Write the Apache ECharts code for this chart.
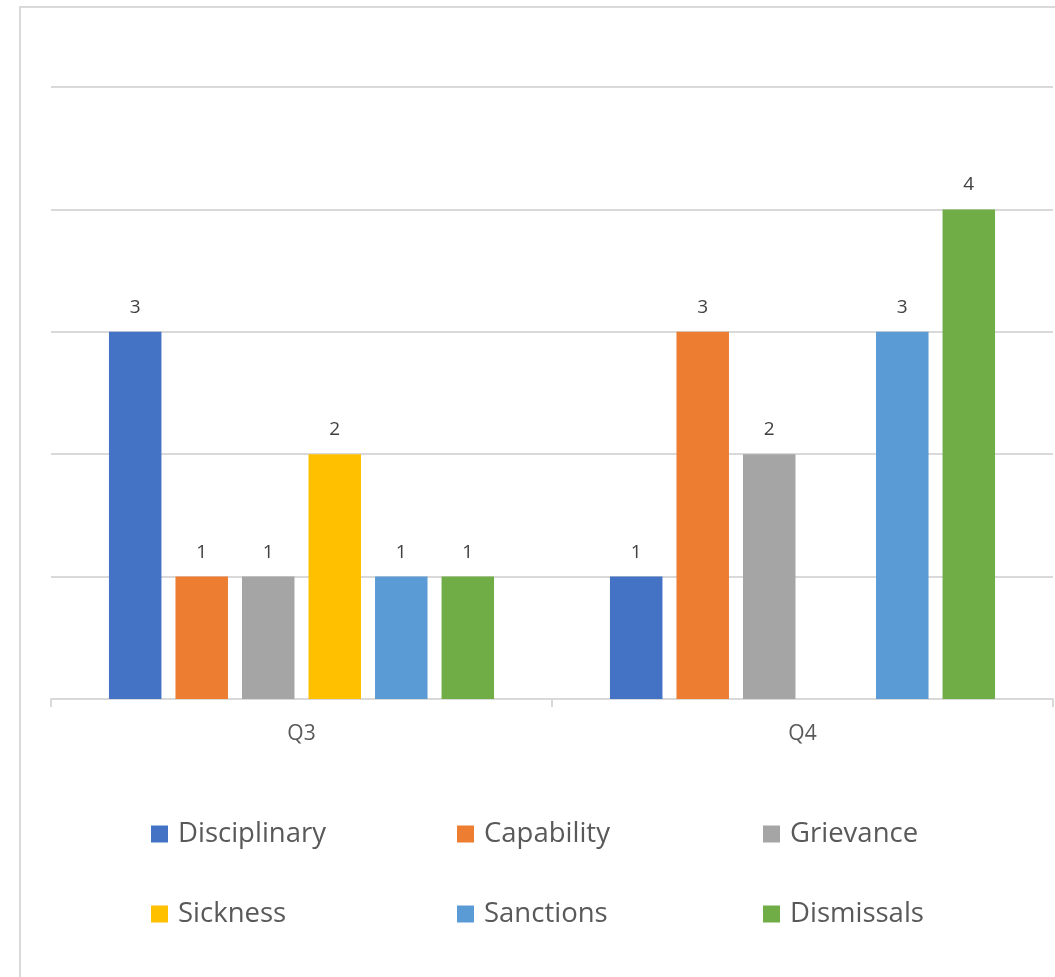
<!DOCTYPE html>
<html>
<head>
<meta charset="utf-8">
<style>
  html, body { margin: 0; padding: 0; background: #fff; }
  #chart { width: 1055px; height: 977px; }
</style>
<script src="https://cdn.jsdelivr.net/npm/echarts@6/dist/echarts.min.js"></script>
</head>
<body>
<div id="chart"></div>
<script>
// Quarterly case counts by type
const quarters = ['Q3', 'Q4'];
const seriesNames = ['Disciplinary', 'Capability', 'Grievance', 'Sickness', 'Sanctions', 'Dismissals'];
const disciplinary = [3, 1];
const capability = [1, 3];
const grievance = [1, 2];
const sickness = [2, null];
const sanctions = [1, 3];
const dismissals = [1, 4];
const colors = ['#4472C4', '#ED7D31', '#A5A5A5', '#FFC000', '#5B9BD5', '#70AD47'];

const values = [disciplinary, capability, grievance, sickness, sanctions, dismissals];
const FONT = '"Open Sans", "Noto Sans", sans-serif';

const chart = echarts.init(document.getElementById('chart'), null, { renderer: 'canvas' });

// Two-row legend laid out as a 3-column grid
const legendCols = [151, 457, 763];
const legendRows = [820, 900];
const legends = seriesNames.map((name, i) => ({
  data: [name],
  left: legendCols[i % 3],
  top: legendRows[Math.floor(i / 3)],
  icon: 'rect',
  itemWidth: 17,
  itemHeight: 17,
  padding: 0,
  selectedMode: false,
  textStyle: {
    color: '#595959',
    fontSize: 27.5,
    fontFamily: FONT,
    padding: [0, 0, 0, 5]
  }
}));

chart.setOption({
  animation: false,
  color: colors,
  graphic: [{
    type: 'rect',
    shape: { x: 20, y: 7, width: 1200, height: 1200 },
    style: { fill: 'none', stroke: '#d9d9d9', lineWidth: 2 },
    silent: true,
    z: -1
  }],
  legend: legends,
  grid: { left: 51, right: 2, top: 87, bottom: 278, containLabel: false },
  xAxis: {
    type: 'category',
    data: quarters,
    axisLine: { lineStyle: { color: '#d9d9d9', width: 2 } },
    axisTick: { show: true, length: 8, lineStyle: { color: '#d9d9d9', width: 2 } },
    axisLabel: { color: '#595959', fontSize: 21, fontFamily: FONT, margin: 25 }
  },
  yAxis: {
    type: 'value',
    min: 0,
    max: 5,
    interval: 1,
    axisLabel: { show: false },
    axisLine: { show: false },
    axisTick: { show: false },
    splitLine: { lineStyle: { color: '#d9d9d9', width: 2 } }
  },
  series: seriesNames.map((name, i) => ({
    name: name,
    type: 'bar',
    data: values[i],
    barWidth: 52.5,
    barGap: '26.7%',
    label: {
      show: true,
      position: 'top',
      distance: 15,
      color: '#404040',
      fontSize: 19,
      fontFamily: FONT
    }
  }))
});
</script>
</body>
</html>
